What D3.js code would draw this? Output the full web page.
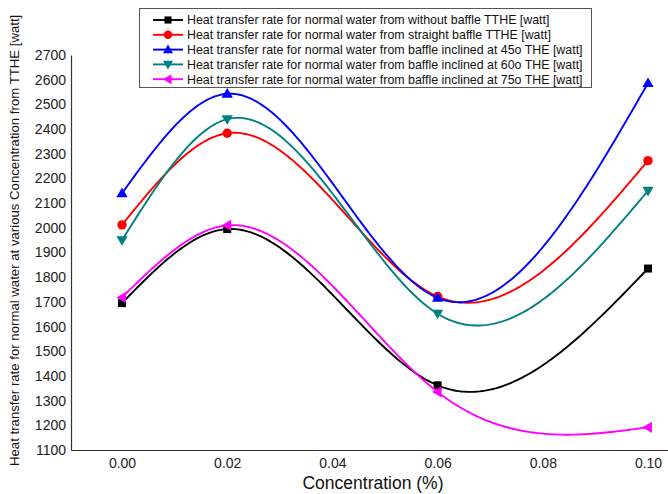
<!DOCTYPE html>
<html>
<head>
<meta charset="utf-8">
<script src="https://cdn.jsdelivr.net/npm/d3@7"></script>
<style>
  html, body { margin: 0; padding: 0; background: #fff; }
  svg { display: block; font-family: "Liberation Sans", Arial, sans-serif; }
</style>
</head>
<body>
<svg id="chart" width="668" height="494"></svg>
<script>
// ---- data ----
const concentrations = [0.00, 0.02, 0.06, 0.10];
const withoutBaffle  = [1695, 1995, 1362, 1835];
const straightBaffle = [2012, 2383, 1722, 2272];
const inclined45     = [2140, 2543, 1716, 2586];
const inclined60     = [1950, 2440, 1652, 2150];
const inclined75     = [1718, 2010, 1335, 1192];
const seriesNames = [
  "Heat transfer rate for normal water from without baffle TTHE [watt]",
  "Heat transfer rate for normal water from straight baffle TTHE [watt]",
  "Heat transfer rate for normal water from baffle inclined at 45o THE [watt]",
  "Heat transfer rate for normal water from baffle inclined at 60o THE [watt]",
  "Heat transfer rate for normal water from baffle inclined at 75o THE [watt]"
];
const xTicks = [0.00, 0.02, 0.04, 0.06, 0.08, 0.10];
const yTicks = [1100,1200,1300,1400,1500,1600,1700,1800,1900,2000,2100,2200,2300,2400,2500,2600,2700];

const seriesValues = [withoutBaffle, straightBaffle, inclined45, inclined60, inclined75];
const colors = ["#000000", "#ff0000", "#0000ff", "#008080", "#ff00ff"];
const shapes = ["square", "circle", "up", "down", "left"];

const svg = d3.select("#chart");
const mLeft = 71, mRight = 668, mTop = 55, mBottom = 450;

const x = d3.scaleLinear().domain([-0.0097, 0.1038]).range([mLeft, mRight]);
const y = d3.scaleLinear().domain([1100, 2700]).range([mBottom, mTop]);

// axes
const yAxis = d3.axisLeft(y).tickValues(yTicks).tickSize(0).tickPadding(5).tickFormat(d3.format("d"));
const gy = svg.append("g").attr("transform", `translate(${mLeft},0)`).call(yAxis);
gy.select(".domain").attr("stroke", "#333").attr("stroke-width", 1.2);
gy.selectAll("text").attr("font-size", 14).attr("fill", "#222");

const xAxis = d3.axisBottom(x).tickValues(xTicks).tickSize(0).tickPadding(8).tickFormat(d3.format(".2f"));
const gx = svg.append("g").attr("transform", `translate(0,${mBottom})`).call(xAxis);
gx.select(".domain").attr("stroke", "#333").attr("stroke-width", 1.2);
gx.selectAll("text").attr("font-size", 14).attr("fill", "#222");

// titles
svg.append("text").attr("x", 373).attr("y", 489).attr("text-anchor", "middle")
  .attr("font-size", 17.5).attr("fill", "#111").text("Concentration (%)");
svg.append("text").attr("transform", "translate(19,466) rotate(-90)")
  .attr("text-anchor", "start").attr("font-size", 13.2).attr("fill", "#111")
  .text("Heat transfer rate for normal water at various Concentration from TTHE [watt]");

// natural cubic spline in data space
function naturalSpline(xs, ys) {
  const n = xs.length;
  const h = [], alpha = [0];
  for (let i = 0; i < n - 1; i++) h.push(xs[i+1] - xs[i]);
  for (let i = 1; i < n - 1; i++)
    alpha.push(3 / h[i] * (ys[i+1] - ys[i]) - 3 / h[i-1] * (ys[i] - ys[i-1]));
  const l = [1], mu = [0], z = [0];
  for (let i = 1; i < n - 1; i++) {
    l.push(2 * (xs[i+1] - xs[i-1]) - h[i-1] * mu[i-1]);
    mu.push(h[i] / l[i]);
    z.push((alpha[i] - h[i-1] * z[i-1]) / l[i]);
  }
  const c = new Array(n).fill(0), b = [], d = [];
  for (let j = n - 2; j >= 0; j--) {
    c[j] = (j === 0 ? 0 : z[j] - mu[j] * c[j+1]);
    b[j] = (ys[j+1] - ys[j]) / h[j] - h[j] * (c[j+1] + 2 * c[j]) / 3;
    d[j] = (c[j+1] - c[j]) / (3 * h[j]);
  }
  return function(t) {
    let i = 0;
    while (i < n - 2 && t > xs[i+1]) i++;
    const dx = t - xs[i];
    return ys[i] + b[i] * dx + c[i] * dx * dx + d[i] * dx * dx * dx;
  };
}

const line = d3.line().x(d => x(d[0])).y(d => y(d[1]));

function drawMarker(g, shape, color, cx, cy, s) {
  if (shape === "square") {
    g.append("rect").attr("x", cx - s*0.85).attr("y", cy - s*0.85).attr("width", s*1.7).attr("height", s*1.7).attr("fill", color);
  } else if (shape === "circle") {
    g.append("circle").attr("cx", cx).attr("cy", cy).attr("r", s).attr("fill", color);
  } else {
    let pts;
    const r = s * 1.2;
    if (shape === "up") pts = [[cx, cy - r], [cx + r, cy + r*0.7], [cx - r, cy + r*0.7]];
    if (shape === "down") pts = [[cx, cy + r], [cx + r, cy - r*0.7], [cx - r, cy - r*0.7]];
    if (shape === "left") pts = [[cx - r, cy], [cx + r*0.7, cy - r], [cx + r*0.7, cy + r]];
    g.append("polygon").attr("points", pts.map(p => p.join(",")).join(" ")).attr("fill", color);
  }
}

seriesValues.forEach((vals, k) => {
  const f = naturalSpline(concentrations, vals);
  const samples = d3.range(0, 201).map(i => {
    const t = concentrations[0] + (concentrations[concentrations.length-1] - concentrations[0]) * i / 200;
    return [t, f(t)];
  });
  const g = svg.append("g");
  g.append("path").attr("d", line(samples)).attr("fill", "none")
    .attr("stroke", colors[k]).attr("stroke-width", 1.9);
  concentrations.forEach((c, i) => drawMarker(g, shapes[k], colors[k], x(c), y(vals[i]), 4.7));
});

// legend
const lg = svg.append("g");
lg.append("rect").attr("x", 139.5).attr("y", 8.5).attr("width", 452).attr("height", 79)
  .attr("fill", "#fff").attr("stroke", "#555").attr("stroke-width", 1);
seriesNames.forEach((name, k) => {
  const cy = 20 + k * 14.8;
  lg.append("line").attr("x1", 153).attr("x2", 183).attr("y1", cy).attr("y2", cy)
    .attr("stroke", colors[k]).attr("stroke-width", 1.9);
  drawMarker(lg, shapes[k], colors[k], 168, cy, 4.2);
  lg.append("text").attr("x", 187).attr("y", cy + 4.3).attr("font-size", 12.4).attr("fill", "#111").text(name);
});
</script>
</body>
</html>
